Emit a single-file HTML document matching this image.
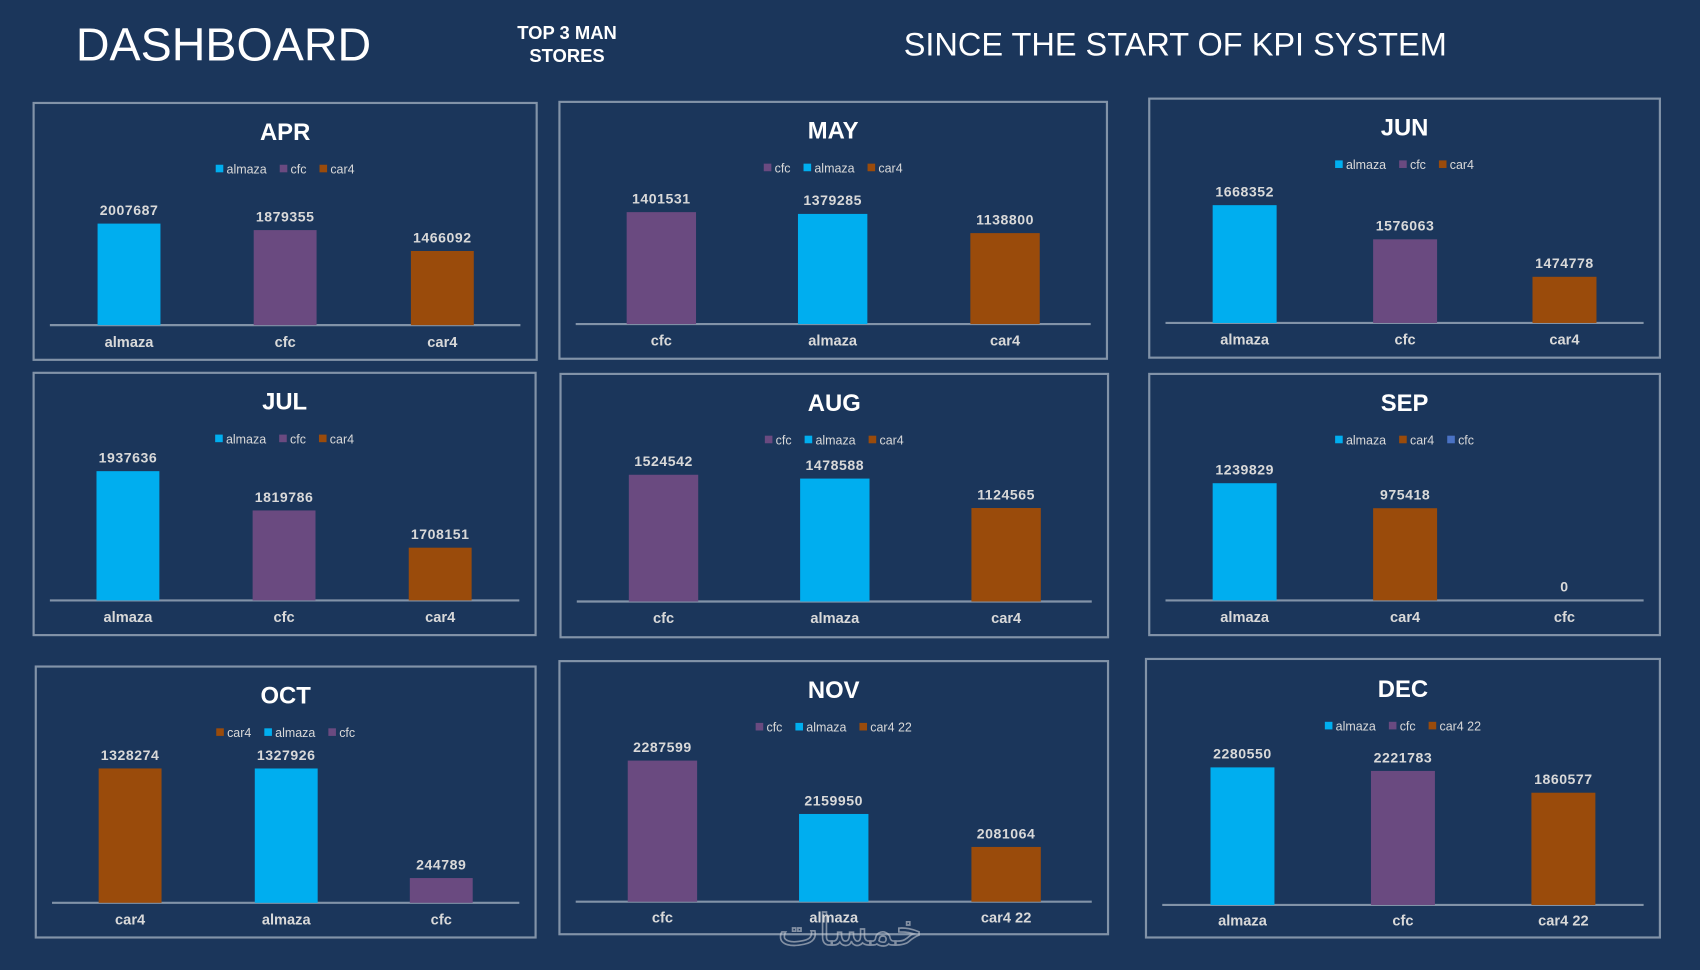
<!DOCTYPE html>
<html><head><meta charset="utf-8"><title>Dashboard</title>
<style>
html,body{margin:0;padding:0;background:#1b365b;width:1700px;height:970px;overflow:hidden}
svg{display:block;font-family:"Liberation Sans",sans-serif}
</style></head><body>
<svg id="dash" width="1700" height="970" viewBox="0 0 1568 895" preserveAspectRatio="none" xmlns="http://www.w3.org/2000/svg">
<rect x="0" y="0" width="1568" height="895" fill="#1b365b"/>
<text x="70" y="56" font-size="43" fill="#ffffff">DASHBOARD</text>
<text x="523" y="36" font-size="17" font-weight="bold" fill="#ffffff" text-anchor="middle">TOP 3 MAN</text>
<text x="523" y="57" font-size="17" font-weight="bold" fill="#ffffff" text-anchor="middle">STORES</text>
<text x="1084" y="51" font-size="30" fill="#ffffff" text-anchor="middle">SINCE THE START OF KPI SYSTEM</text>
<g id="charts"></g>
<text x="784" y="872" font-size="40" fill="none" stroke="#c8ccd4" stroke-width="1.5" opacity="0.6" text-anchor="middle" font-family="'DejaVu Sans',sans-serif">خمسات</text>
</svg>
<script>
// ---- data ----
const months = ["APR","MAY","JUN","JUL","AUG","SEP","OCT","NOV","DEC"];
const categories = [
 ["almaza","cfc","car4"],["cfc","almaza","car4"],["almaza","cfc","car4"],
 ["almaza","cfc","car4"],["cfc","almaza","car4"],["almaza","car4","cfc"],
 ["car4","almaza","cfc"],["cfc","almaza","car4 22"],["almaza","cfc","car4 22"]
];
const values = [
 [2007687,1879355,1466092],[1401531,1379285,1138800],[1668352,1576063,1474778],
 [1937636,1819786,1708151],[1524542,1478588,1124565],[1239829,975418,0],
 [1328274,1327926,244789],[2287599,2159950,2081064],[2280550,2221783,1860577]
];
const axisMin = [0,0,1350000,1550000,0,0,0,1950000,0];
const axisMax = [3000000,1900000,1760000,2005000,1825000,1605000,1500000,2313000,2515000];

// ---- layout (geometry, display coords) ----
const panels = [
 {x:31,y:95,w:464,h:237,ty:129,ly:160,base:300,cx:[119,263,408],bw:58,lab:320},
 {x:516,y:94,w:505,h:237,ty:128,ly:159,base:299,cx:[610,768,927],bw:64,lab:319},
 {x:1060,y:91,w:471,h:239,ty:125,ly:156,base:298,cx:[1148,1296,1443],bw:59,lab:318},
 {x:31,y:344,w:463,h:242,ty:378,ly:409,base:554,cx:[118,262,406],bw:58,lab:574},
 {x:517,y:345,w:505,h:243,ty:379,ly:410,base:555,cx:[612,770,928],bw:64,lab:575},
 {x:1060,y:345,w:471,h:241,ty:379,ly:410,base:554,cx:[1148,1296,1443],bw:59,lab:574},
 {x:33,y:615,w:461,h:250,ty:649,ly:680,base:833,cx:[120,264,407],bw:58,lab:853},
 {x:516,y:610,w:506,h:252,ty:644,ly:675,base:832,cx:[611,769,928],bw:64,lab:851},
 {x:1057,y:608,w:474,h:257,ty:643,ly:674,base:835,cx:[1146,1294,1442],bw:59,lab:854}
];
const plotH = 140;
function colorOf(name,i){
  if(name.startsWith("almaza")) return "#00aeef";
  if(name.startsWith("car4")) return "#9a4b0b";
  if(i===5) return "#4a72c4";
  return "#6a4a80";
}
const NS="http://www.w3.org/2000/svg";
const root=document.getElementById("charts");
function mk(tag,attrs,parent){const e=document.createElementNS(NS,tag);for(const k in attrs)e.setAttribute(k,attrs[k]);parent.appendChild(e);return e;}
months.forEach((m,i)=>{
  const p=panels[i];
  const g=mk("g",{},root);
  
  
  const fr=mk("rect",{x:p.x,y:p.y,width:p.w,height:p.h,fill:"none",stroke:"#8293a8","stroke-width":2},g);
  
  
  const t=mk("text",{x:p.x+p.w/2,y:p.ty,"font-size":22,"font-weight":"bold",fill:"#ffffff","text-anchor":"middle"},g);
  t.textContent=m;
  
  
  const lg=mk("g",{},g);
  
  
  let xx=0;
  categories[i].forEach((c,j)=>{
    const it=mk("g",{},lg);
    
    
    mk("rect",{x:xx,y:-8,width:7,height:7,fill:colorOf(c,i)},it);
    const tx=mk("text",{x:xx+10,y:0,"font-size":11.5,fill:"#d9d9d9"},it);
    tx.textContent=c;
    xx+=10+tx.getComputedTextLength()+12;
  });
  const lw=xx-12;
  lg.setAttribute("transform","translate("+(p.x+p.w/2-lw/2)+","+p.ly+")");
  const bl=mk("line",{x1:p.x+15,x2:p.x+p.w-15,y1:p.base,y2:p.base,stroke:"#8293a8","stroke-width":2},g);
  
  
  const yScale=v=>plotH*Math.max(0,(v-axisMin[i]))/(axisMax[i]-axisMin[i]);
  values[i].forEach((v,j)=>{
    const h=yScale(v);const cx=p.cx[j];
    const b=mk("rect",{x:cx-p.bw/2,y:p.base-h,width:p.bw,height:h,fill:colorOf(categories[i][j],i)},g);
    
    
    const vl=mk("text",{x:cx,y:p.base-h-8,"font-size":13,"font-weight":"bold",fill:"#d9d9d9","text-anchor":"middle","letter-spacing":"0.5"},g);
    vl.textContent=String(v);
    
    
    const cl=mk("text",{x:cx,y:p.lab,"font-size":13.5,"font-weight":"600",fill:"#d9d9d9","text-anchor":"middle"},g);
    cl.textContent=categories[i][j];
    
    
  });
});
</script>
</body></html>
